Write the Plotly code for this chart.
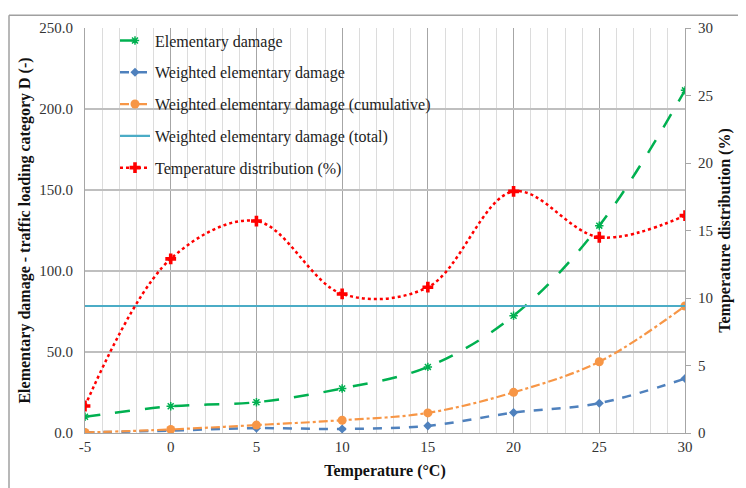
import plotly.graph_objects as go

temperature = [-5, 0, 5, 10, 15, 20, 25, 30]
elementary_damage = [10.0, 16.5, 19.0, 27.5, 40.8, 72.4, 128.0, 211.5]
weighted_damage = [0.3, 1.5, 3.0, 2.5, 4.4, 12.6, 18.4, 33.6]
weighted_cumulative = [0.3, 2.2, 4.9, 7.9, 12.4, 25.1, 44.0, 78.4]
weighted_total = 78.4
temperature_distribution = [2.0, 12.9, 15.7, 10.3, 10.8, 17.9, 14.5, 16.1]

x_ticks = [-5, 0, 5, 10, 15, 20, 25, 30]
left_ticks = [0, 50, 100, 150, 200, 250]
right_ticks = [0, 5, 10, 15, 20, 25, 30]

GREEN = "#00B050"
BLUE = "#4F81BD"
ORANGE = "#F79646"
TEAL = "#4BACC6"
RED = "#FF0000"
FONT = "Liberation Serif"

fig = go.Figure()

fig.add_trace(go.Scatter(
    x=temperature, y=elementary_damage, name="Elementary damage",
    mode="lines+markers", line=dict(color=GREEN, width=2.5, dash="longdash", shape="spline"),
    marker=dict(symbol="asterisk-open", size=7, color=GREEN, line=dict(color=GREEN, width=1.5)),
    legendgroup="a"))
fig.add_trace(go.Scatter(
    x=temperature, y=weighted_damage, name="Weighted elementary damage",
    mode="lines+markers", line=dict(color=BLUE, width=2.5, dash="dash", shape="spline"),
    marker=dict(symbol="diamond", size=7, color=BLUE),
    legendgroup="b"))
fig.add_trace(go.Scatter(
    x=temperature, y=weighted_cumulative, name="Weighted elementary damage (cumulative)",
    mode="lines+markers", line=dict(color=ORANGE, width=2.2, dash="dashdot", shape="spline"),
    marker=dict(symbol="circle", size=9, color=ORANGE),
    legendgroup="c"))
fig.add_trace(go.Scatter(
    x=[temperature[0], temperature[-1]], y=[weighted_total, weighted_total],
    name="Weighted elementary damage (total)",
    mode="lines", line=dict(color=TEAL, width=2.2),
    legendgroup="d"))
fig.add_trace(go.Scatter(
    x=temperature, y=temperature_distribution, name="Temperature distribution (%)",
    mode="lines+markers", yaxis="y2",
    line=dict(color=RED, width=2.5, dash="dot", shape="spline"),
    marker=dict(symbol="cross", size=9, color=RED),
    legendgroup="e"))

fig.update_layout(
    width=746, height=488,
    margin=dict(l=77, r=69, t=14, b=63),
    paper_bgcolor="white", plot_bgcolor="white",
    font=dict(family=FONT, size=15, color="#333333"),
    showlegend=True,
    legend=dict(x=0.05, y=1.011, xanchor="left", yanchor="top",
                bgcolor="rgba(255,255,255,0)", font=dict(family=FONT, size=16, color="#222222"),
                tracegroupgap=8, itemwidth=30),
    xaxis=dict(range=[-5, 30], tickvals=x_ticks, ticktext=[str(v) for v in x_ticks],
               showgrid=True, gridcolor="#A6A6A6", gridwidth=1,
               minor=dict(dtick=1, showgrid=True, gridcolor="#DCDCDC", gridwidth=1),
               showline=True, linecolor="#A6A6A6", zeroline=False, ticks="",
               title=dict(text="<b>Temperature (°C)</b>", font=dict(family=FONT, size=16, color="#111111"), standoff=10)),
    yaxis=dict(range=[0, 250], tickvals=left_ticks, tickformat=".1f",
               showgrid=True, gridcolor="#BFBFBF", gridwidth=1.5,
               showline=True, linecolor="#A6A6A6", zeroline=False, ticks="",
               ticklabelstandoff=8,
               title=dict(text="<b>Elementary damage - traffic loading category D (-)</b>",
                          font=dict(family=FONT, size=16, color="#111111"), standoff=4)),
    yaxis2=dict(range=[0, 30], tickvals=right_ticks, overlaying="y", side="right",
                showgrid=False, showline=True, linecolor="#A6A6A6", zeroline=False,
                ticks="outside", ticklen=5, tickcolor="#A6A6A6", ticklabelstandoff=4,
                title=dict(text="<b>Temperature distribution (%)</b>",
                           font=dict(family=FONT, size=16, color="#111111"), standoff=6)),
)

# outer chart frame (top and left edges)
fig.add_shape(type="line", xref="paper", yref="paper", x0=-76/600, x1=1.2, y0=1 + 13/411, y1=1 + 13/411,
              line=dict(color="#A0A0A0", width=1.5))
fig.add_shape(type="line", xref="paper", yref="paper", x0=-76/600, x1=-76/600, y0=-0.2, y1=1 + 13/411,
              line=dict(color="#A0A0A0", width=1.5))

fig.write_html("out.html")
